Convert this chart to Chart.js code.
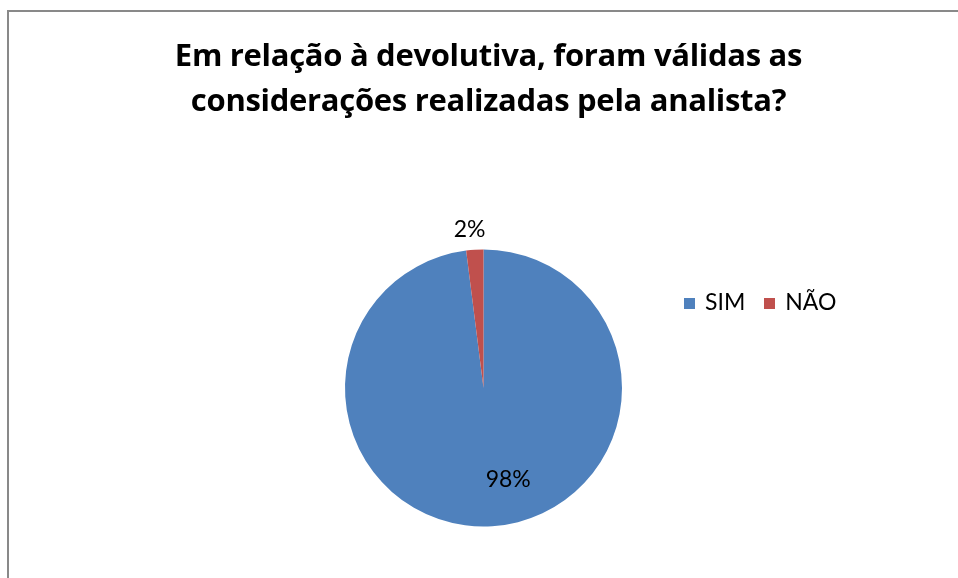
<!DOCTYPE html>
<html>
<head>
<meta charset="utf-8">
<script src="https://cdn.jsdelivr.net/npm/chart.js@4"></script>
<style>
  html, body { margin: 0; padding: 0; background: #fff; }
  #wrap { position: relative; width: 958px; height: 578px; overflow: hidden; background: #fff; }
  #frame { position: absolute; left: 7px; top: 10px; right: -10px; bottom: -10px;
           border-left: 2px solid #898989; border-top: 2px solid #898989; }
  #title { position: absolute; left: 0; width: 977px; top: 32px; text-align: center;
           font-family: "Open Sans", Lato, sans-serif; font-weight: bold; font-size: 31px;
           line-height: 45px; color: #000; letter-spacing: -0.3px; }
  #legend { position: absolute; left: 684px; top: 287px; font-family: Lato, "Open Sans", sans-serif;
            font-size: 23px; color: #000; white-space: nowrap; }
  #legend .item { display: inline-block; margin-right: 19px; }
  #legend .sw { display: inline-block; width: 11px; height: 11px; margin-right: 10px; vertical-align: 1px; }
  canvas { position: absolute; left: 0; top: 0; }
</style>
</head>
<body>
<div id="wrap">
  <div id="frame"></div>
  <canvas id="c" width="958" height="578"></canvas>
  <div id="title">Em relação à devolutiva, foram válidas as<br>considerações realizadas pela analista?</div>
  <div id="legend"></div>
</div>
<script>
const categories = ["SIM", "NÃO"];
const values = [98, 2];
const valueLabels = ["98%", "2%"];
const colors = ["#4F81BD", "#C0504D"];

// legend (HTML)
const lg = document.getElementById('legend');
categories.forEach((c, i) => {
  const s = document.createElement('span');
  s.className = 'item';
  s.innerHTML = '<span class="sw" style="background:' + colors[i] + '"></span>' + c;
  lg.appendChild(s);
});

const labelPlugin = {
  id: 'sliceLabels',
  afterDatasetsDraw(chart) {
    const ctx = chart.ctx;
    const meta = chart.getDatasetMeta(0);
    ctx.save();
    ctx.font = '23px Lato, "Open Sans", sans-serif';
    ctx.fillStyle = '#000';
    ctx.textAlign = 'center';
    ctx.textBaseline = 'middle';
    meta.data.forEach((arc, i) => {
      const p = arc.getProps(['x', 'y', 'startAngle', 'endAngle', 'outerRadius'], true);
      const mid = (p.startAngle + p.endAngle) / 2;
      const frac = values[i] / values.reduce((a, b) => a + b, 0);
      let x, y;
      if (frac > 0.1) {
        const r = p.outerRadius * 0.66;
        x = p.x + Math.cos(mid) * r + 19;
        y = p.y + Math.sin(mid) * r;
      } else {
        const r = p.outerRadius + 20;
        x = p.x + Math.cos(mid) * r - 4;
        y = p.y + Math.sin(mid) * r;
      }
      ctx.fillText(valueLabels[i], x, y);
    });
    ctx.restore();
  }
};

new Chart(document.getElementById('c'), {
  type: 'pie',
  data: {
    labels: categories,
    datasets: [{
      data: values,
      backgroundColor: colors,
      borderWidth: 0
    }]
  },
  options: {
    responsive: false,
    animation: false,
    devicePixelRatio: 1,
    layout: { padding: { left: 345, right: 336, top: 249, bottom: 51 } },
    plugins: {
      legend: { display: false },
      title: { display: false },
      tooltip: { enabled: false }
    }
  },
  plugins: [labelPlugin]
});
</script>
</body>
</html>
